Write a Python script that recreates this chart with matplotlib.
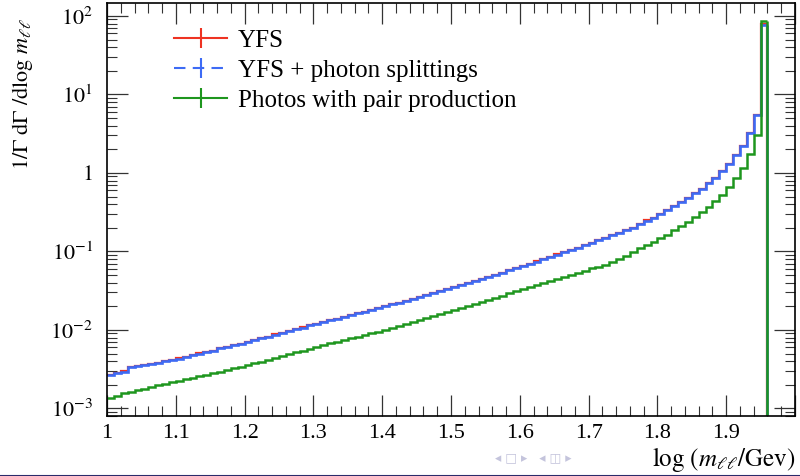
import numpy as np
import matplotlib
matplotlib.use("Agg")
import matplotlib.pyplot as plt
from matplotlib.lines import Line2D
from matplotlib.ticker import FixedLocator, MultipleLocator, FuncFormatter, LogLocator, NullFormatter

plt.rcParams["font.family"] = ["Liberation Serif", "DejaVu Serif"]
plt.rcParams["mathtext.fontset"] = "stix"

# Histogram binning in log(m_ll / GeV)
x_start, bin_width, n_bins = 1.00, 0.01, 96
edges = np.round(x_start + bin_width * np.arange(n_bins + 1), 2)

# 1/Gamma dGamma/dlog m_ll, in units of 1e-3 (one row per 0.1 in log m_ll)
yfs = np.array([
    2.70, 2.85, 2.98, 3.32, 3.45, 3.55, 3.66, 3.78, 3.98, 4.18,
    4.34, 4.52, 4.78, 5.05, 5.22, 5.45, 5.80, 6.05, 6.38, 6.65,
    7.02, 7.40, 7.80, 8.22, 8.80, 9.12, 9.70, 10.2, 10.8, 11.4,
    12.0, 12.6, 13.3, 13.9, 14.8, 15.4, 16.4, 17.0, 17.9, 18.9,
    20.0, 21.2, 22.3, 23.6, 25.1, 26.3, 27.8, 29.8, 31.1, 32.8,
    34.9, 36.9, 39.3, 41.9, 44.5, 47.4, 50.7, 53.7, 57.8, 60.9,
    65.0, 69.5, 74.8, 79.5, 85.0, 91.5, 97.2, 104, 111, 121,
    127, 139, 150, 162, 174, 187, 201, 222, 249, 267,
    303, 337, 377, 420, 475, 555, 632, 740, 850, 1050,
    1300, 1690, 2230, 3200, 5450, 78000,
]) * 1e-3

yfs_split = np.array([
    2.70, 2.85, 2.92, 3.32, 3.45, 3.55, 3.66, 3.75, 3.98, 4.18,
    4.32, 4.50, 4.78, 4.98, 5.22, 5.45, 5.80, 6.05, 6.35, 6.65,
    7.00, 7.35, 7.80, 8.20, 8.70, 9.10, 9.70, 10.2, 10.7, 11.4,
    12.0, 12.6, 13.3, 13.9, 14.7, 15.4, 16.2, 17.0, 17.9, 18.9,
    20.0, 21.1, 22.3, 23.6, 24.9, 26.3, 27.8, 29.4, 31.1, 32.8,
    34.7, 36.9, 39.3, 41.8, 44.5, 47.4, 50.5, 53.7, 57.2, 60.9,
    65.0, 69.5, 74.3, 79.5, 85.0, 90.9, 97.2, 104, 111, 119,
    127, 139, 150, 161, 174, 186, 201, 222, 245, 267,
    303, 335, 377, 420, 472, 547, 632, 733, 850, 1050,
    1290, 1680, 2200, 3200, 5400, 76000,
]) * 1e-3

photos = np.array([
    1.37, 1.42, 1.55, 1.62, 1.70, 1.77, 1.87, 1.96, 2.06, 2.16,
    2.26, 2.36, 2.46, 2.57, 2.69, 2.82, 2.95, 3.09, 3.24, 3.39,
    3.55, 3.74, 3.95, 4.17, 4.39, 4.63, 4.89, 5.16, 5.44, 5.74,
    6.07, 6.38, 6.71, 7.06, 7.41, 7.80, 8.20, 8.62, 9.06, 9.53,
    10.1, 10.7, 11.3, 11.9, 12.6, 13.4, 14.1, 14.9, 15.8, 16.8,
    17.8, 18.9, 20.1, 21.4, 22.7, 24.2, 25.7, 27.3, 29.1, 30.9,
    33.0, 35.0, 37.2, 39.6, 42.0, 44.6, 47.5, 50.5, 53.6, 57.0,
    61.0, 64.0, 68.0, 73.5, 79.6, 88.5, 97.5, 109, 120, 132,
    146, 164, 186, 209, 238, 275, 319, 369, 436, 530,
    660, 850, 1140, 1730, 3000, 86000,
]) * 1e-3

labels = ["YFS", "YFS + photon splittings", "Photos with pair production"]
c_red, c_blue, c_green = "#ee3322", "#3d6bf5", "#1e961e"

fig = plt.figure(figsize=(8.0, 4.76), dpi=100)
ax = fig.add_axes([107 / 800, 1 - 416 / 476, 688 / 800, 413 / 476])

series = [(yfs, c_red, 1.6, 3), (yfs_split, c_blue, 1.9, 4), (photos, c_green, 1.8, 5)]
for vals, col, lw, z in series:
    ax.stairs(vals, edges, baseline=None, color=col, lw=lw, zorder=z)
    # closing edge of the last bin down to the axis
    ax.vlines(edges[-1], 1e-7, vals[-1], color=col, lw=lw, zorder=z)

ax.set_yscale("log")
ax.set_xlim(1.0, 2.0)
ax.set_ylim(8e-4, 146)

ax.xaxis.set_major_locator(FixedLocator(np.round(np.arange(1.0, 2.01, 0.1), 1)))
ax.xaxis.set_minor_locator(MultipleLocator(0.02))
ax.xaxis.set_major_formatter(FuncFormatter(
    lambda v, p: "" if v > 1.95 else ("1" if abs(v - 1) < 1e-9 else f"{v:.1f}")))

ax.yaxis.set_major_locator(LogLocator(base=10, numticks=20))
ax.yaxis.set_minor_locator(LogLocator(base=10, subs=np.arange(2, 10), numticks=20))
ax.yaxis.set_minor_formatter(NullFormatter())


def ylab(v, p):
    e = int(round(np.log10(v)))
    return "$1$" if e == 0 else r"$10^{%d}$" % e


ax.yaxis.set_major_formatter(FuncFormatter(ylab))

ax.tick_params(which="both", direction="in", top=True, right=True, color="#333333")
ax.tick_params(which="major", length=15, width=0.9, labelsize=16)
ax.tick_params(axis="x", which="major", pad=6)
ax.tick_params(axis="y", which="major", pad=10)
ax.tick_params(which="minor", length=7, width=0.8)
for s in ax.spines.values():
    s.set_linewidth(1.2)
    s.set_zorder(6)

handles = [
    Line2D([], [], color=c_red, lw=1.5, marker="|", markersize=15, markeredgewidth=1.5),
    Line2D([], [], color=c_blue, lw=1.5, ls=(0, (5.5, 3.5)), marker="|", markersize=15,
           markeredgewidth=1.5),
    Line2D([], [], color=c_green, lw=1.5, marker="|", markersize=15, markeredgewidth=1.5),
]
ax.legend(handles, labels, loc="upper left", bbox_to_anchor=(0.098, 0.937),
          frameon=False, fontsize=18, handlelength=2.1, handletextpad=0.45,
          labelspacing=0.3, numpoints=1, borderpad=0.0, borderaxespad=0.0)

fig.text(0.028, 1 - 94 / 476, r"$1/\Gamma\ \mathrm{d}\Gamma\ /\mathrm{d}\log\, m_{\ell\ell}$",
         rotation=90, ha="center", va="center", fontsize=16)

# beamer navigation bar
fig.text(495 / 800, 1 - 458 / 476, "◂ □ ▸   ◂ ◫ ▸",
         family=["DejaVu Sans", "Noto Sans"], fontsize=9, color="#c4c4dc",
         ha="left", va="center")
fig.text(795 / 800, 1 - 466 / 476, r"$\log\,(m_{\ell\ell}/\mathrm{Gev})$",
         ha="right", va="baseline", fontsize=18)
fig.add_artist(Line2D([0, 1], [0.5 / 476, 0.5 / 476], color="#2b2b6b", lw=1.5,
                      transform=fig.transFigure))

fig.savefig("out.png", dpi=100)
